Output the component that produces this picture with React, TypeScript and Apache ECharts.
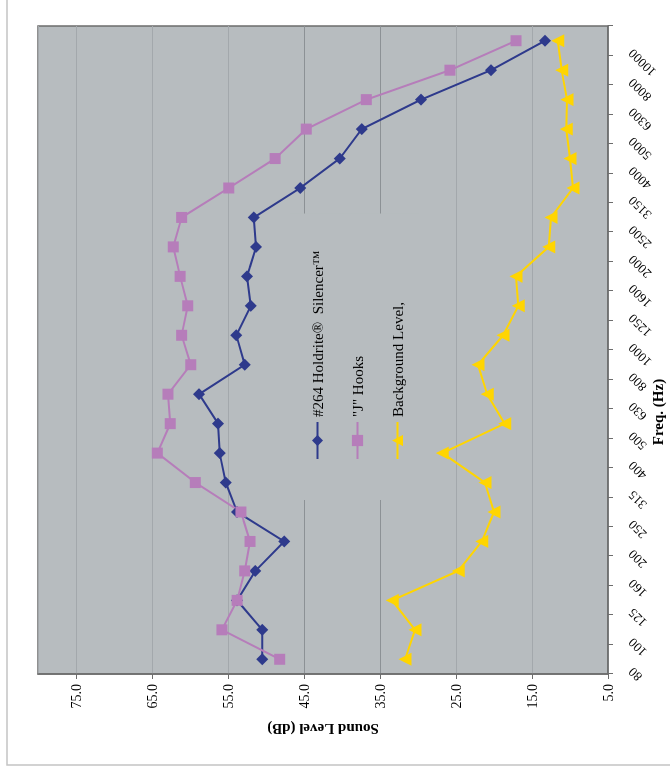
import React, { useEffect, useRef } from "react";
import * as echarts from "echarts";

const categories = ["80", "100", "125", "160", "200", "250", "315", "400", "500", "630", "800", "1000", "1250", "1600", "2000", "2500", "3150", "4000", "5000", "6300", "8000", "10000"];
const holdrite = [50.5, 50.5, 53.8, 51.4, 47.6, 53.8, 55.3, 56.1, 56.3, 58.8, 52.8, 53.9, 52.0, 52.5, 51.3, 51.6, 45.5, 40.3, 37.4, 29.6, 20.4, 13.3];
const jHooks = [48.2, 55.8, 53.8, 52.8, 52.1, 53.3, 59.3, 64.3, 62.6, 62.9, 59.9, 61.1, 60.3, 61.3, 62.2, 61.1, 54.9, 48.8, 44.7, 36.8, 25.8, 17.1];
const backgroundLevel = [31.7, 30.4, 33.4, 24.7, 21.6, 20.0, 21.2, 26.8, 18.6, 20.9, 22.1, 18.8, 16.8, 17.1, 12.8, 12.5, 9.6, 10.0, 10.5, 10.4, 11.1, 11.6];
const seriesNames = ["#264 Holdrite®  Silencer™", "\"J\" Hooks", "Background Level,"];
const valueMin = 5;
const valueMax = 80;
const valueInterval = 10;

const FONT = "'Liberation Serif', 'Times New Roman', serif";
const PLOT_BG = "#B7BCBF";
const GRID_LIGHT = "#a3a8ac";
const GRID_DARK = "#8c9195";

export default function App() {
  const ref = useRef<HTMLDivElement>(null);
  useEffect(() => {
    if (!ref.current) return;
    const chart = echarts.init(ref.current, null, { renderer: "svg" });
    chart.setOption({
      animation: false,
      backgroundColor: "#ffffff",
      textStyle: { fontFamily: FONT },
      grid: {
        left: 102,
        right: 26,
        top: 38,
        bottom: 62,
        show: true,
        backgroundColor: PLOT_BG,
        borderColor: "#6c6c6c",
        borderWidth: 1.5,
      },
      graphic: [
        {
          type: "rect",
          z: -10,
          shape: { x: 11, y: 7, width: 900, height: 900 },
          style: { fill: "none", stroke: "#c4c4c4", lineWidth: 1.5 },
        },
        {
          type: "text",
          x: 364,
          y: 658,
          style: {
            text: "Freq. (Hz)",
            align: "center",
            verticalAlign: "middle",
            font: `bold 15px ${FONT}`,
            fill: "#000",
          },
        },
      ],
      legend: {
        data: seriesNames,
        orient: "vertical",
        left: 276,
        top: 290,
        padding: [20, 37, 14, 40],
        itemGap: 25,
        itemWidth: 37,
        itemHeight: 14,
        backgroundColor: PLOT_BG,
        textStyle: { fontFamily: FONT, fontSize: 15, color: "#000" },
      },
      xAxis: {
        type: "category",
        data: categories,
        boundaryGap: true,
        axisLine: { lineStyle: { color: "#6c6c6c", width: 1.5 } },
        axisTick: { show: true, length: 5, lineStyle: { color: "#6c6c6c" } },
        axisLabel: {
          rotate: 45,
          margin: 12,
          padding: [0, 15, 0, 0],
          fontSize: 13,
          fontFamily: FONT,
          color: "#000",
          interval: 0,
        },
        splitLine: { show: false },
      },
      yAxis: {
        type: "value",
        min: valueMin,
        max: valueMax,
        interval: valueInterval,
        name: "Sound Level (dB)",
        nameLocation: "middle",
        nameRotate: 90,
        nameGap: 48,
        nameTextStyle: { fontFamily: FONT, fontSize: 15, fontWeight: "bold", color: "#000" },
        axisLine: { show: true, lineStyle: { color: "#6c6c6c", width: 1.5 } },
        axisTick: { show: true, length: 5, lineStyle: { color: "#6c6c6c" } },
        axisLabel: {
          margin: 10,
          fontSize: 14,
          fontFamily: FONT,
          color: "#000",
          showMaxLabel: false,
          formatter: (v: number) => v.toFixed(1),
        },
        splitLine: {
          show: true,
          lineStyle: {
            color: [GRID_LIGHT, GRID_LIGHT, GRID_LIGHT, GRID_DARK, GRID_DARK, GRID_LIGHT, GRID_LIGHT, GRID_LIGHT, GRID_LIGHT],
            width: 1,
          },
        },
      },
      series: [
        {
          name: seriesNames[0],
          type: "line",
          data: holdrite,
          symbol: "diamond",
          symbolSize: 12,
          itemStyle: { color: "#2E3A8C" },
          lineStyle: { color: "#2E3A8C", width: 2 },
        },
        {
          name: seriesNames[1],
          type: "line",
          data: jHooks,
          symbol: "rect",
          symbolSize: 11,
          itemStyle: { color: "#B67DBA" },
          lineStyle: { color: "#B67DBA", width: 2 },
        },
        {
          name: seriesNames[2],
          type: "line",
          data: backgroundLevel,
          symbol: "triangle",
          symbolSize: 13,
          itemStyle: { color: "#FFD500" },
          lineStyle: { color: "#FFD500", width: 2 },
        },
      ],
    });
    return () => chart.dispose();
  }, []);

  return (
    <div
      ref={ref}
      style={{
        position: "fixed",
        left: -53,
        top: 53,
        width: 776,
        height: 670,
        transform: "rotate(-90deg)",
        transformOrigin: "50% 50%",
      }}
    />
  );
}
